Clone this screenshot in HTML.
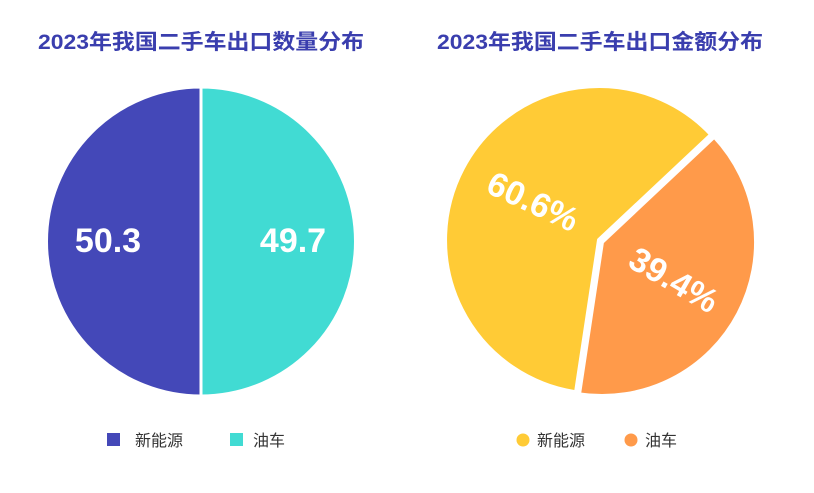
<!DOCTYPE html>
<html><head><meta charset="utf-8"><style>
body{margin:0;background:#fff;}
svg text{font-family:"Liberation Sans","Noto Sans CJK SC",sans-serif;}
</style></head><body>
<svg width="814" height="488" viewBox="0 0 814 488" xmlns="http://www.w3.org/2000/svg">
<rect width="814" height="488" fill="#fff"/>
<text x="201" y="49" text-anchor="middle" font-size="21" font-weight="bold" fill="#3a3eae" textLength="326" lengthAdjust="spacingAndGlyphs">2023年我国二手车出口数量分布</text>
<text x="600" y="49" text-anchor="middle" font-size="21" font-weight="bold" fill="#3a3eae" textLength="326" lengthAdjust="spacingAndGlyphs">2023年我国二手车出口金额分布</text>
<!-- left pie -->
<path d="M201,241.5 L201,87 A154.5,154.5 0 0 1 201,396 Z" fill="#41dbd3" stroke="#fff" stroke-width="3"/>
<path d="M201,241.5 L201,396 A154.5,154.5 0 0 1 201,87 Z" fill="#4448b8" stroke="#fff" stroke-width="3"/>
<text x="108" y="252" text-anchor="middle" font-size="34" font-weight="bold" fill="#fff">50.3</text>
<text x="293" y="252" text-anchor="middle" font-size="34" font-weight="bold" fill="#fff">49.7</text>
<!-- right pie -->
<path d="M599,240 L576,392.3 A154,154 0 1 1 711.3,134.6 Z" fill="#ffcb36" stroke="#fff" stroke-width="4" stroke-linejoin="round"/>
<path d="M602,242 L714.3,136.6 A154,154 0 0 1 579,394.3 Z" fill="#ff9a4a" stroke="#fff" stroke-width="4" stroke-linejoin="round"/>
<text transform="translate(528,212) rotate(25)" text-anchor="middle" font-size="34" font-weight="bold" fill="#fff">60.6%</text>
<text transform="translate(668,290) rotate(30)" text-anchor="middle" font-size="34" font-weight="bold" fill="#fff">39.4%</text>
<!-- legends -->
<rect x="107" y="433" width="13" height="13" fill="#4448b8"/>
<text x="135" y="446" font-size="16" fill="#333">新能源</text>
<rect x="230" y="433" width="13" height="13" fill="#41dbd3"/>
<text x="253" y="446" font-size="16" fill="#333">油车</text>
<circle cx="523" cy="440" r="6.5" fill="#ffcb36"/>
<text x="537" y="446" font-size="16" fill="#333">新能源</text>
<circle cx="631" cy="440" r="6.5" fill="#ff9a4a"/>
<text x="645" y="446" font-size="16" fill="#333">油车</text>
</svg>
</body></html>
